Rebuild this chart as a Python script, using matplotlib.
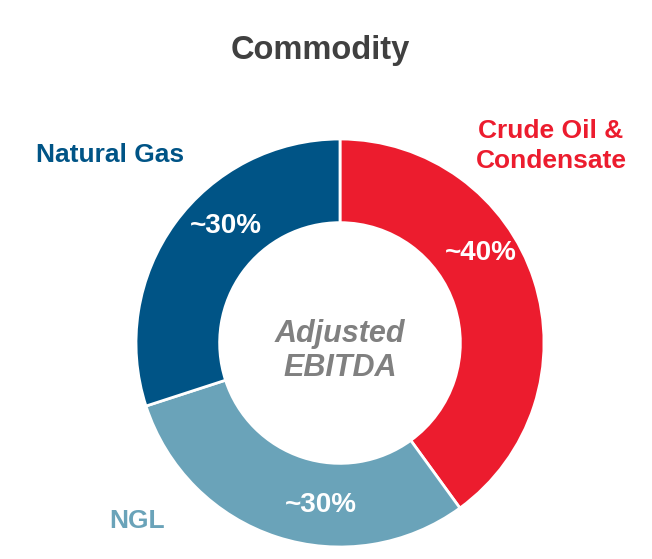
import matplotlib.pyplot as plt

plt.rcParams["font.family"] = ["Liberation Sans", "DejaVu Sans"]

segments = ["Crude Oil &\nCondensate", "NGL", "Natural Gas"]
shares = [40, 30, 30]
pct_labels = ["~40%", "~30%", "~30%"]
colors = ["#EC1C2E", "#6AA3B9", "#005486"]

W, H = 652, 559
cx, cy, R = 340, 343, 204

fig = plt.figure(figsize=(W / 100, H / 100), dpi=100)
ax = fig.add_axes([0, 0, 1, 1])

ax.pie(
    shares,
    colors=colors,
    startangle=90,
    counterclock=False,
    radius=1,
    wedgeprops=dict(width=0.41, edgecolor="white", linewidth=2),
)

# one data unit = R pixels, centre of the donut at (cx, cy)
ax.set_aspect("auto")
ax.set_xlim(-cx / R, (W - cx) / R)
ax.set_ylim(-(H - cy) / R, cy / R)
ax.axis("off")


def put(px, py, s, **kw):
    fig.text(px / W, 1 - py / H, s, ha="center", va="center",
             fontweight="bold", **kw)


put(320, 50, "Commodity", fontsize=23.5, color="#404040")

# category names
put(551, 146, segments[0], fontsize=19, color=colors[0], linespacing=1.3)
put(137, 521, segments[1], fontsize=19, color=colors[1])
put(110, 155, segments[2], fontsize=19, color=colors[2])

# percentages inside the ring
put(481, 253, pct_labels[0], fontsize=20, color="white")
put(321, 505, pct_labels[1], fontsize=20, color="white")
put(226, 226, pct_labels[2], fontsize=20, color="white")

put(340, 351, "Adjusted\nEBITDA", fontsize=22, color="#808080",
    style="italic", linespacing=1.2)

plt.savefig("out.png", dpi=100)
